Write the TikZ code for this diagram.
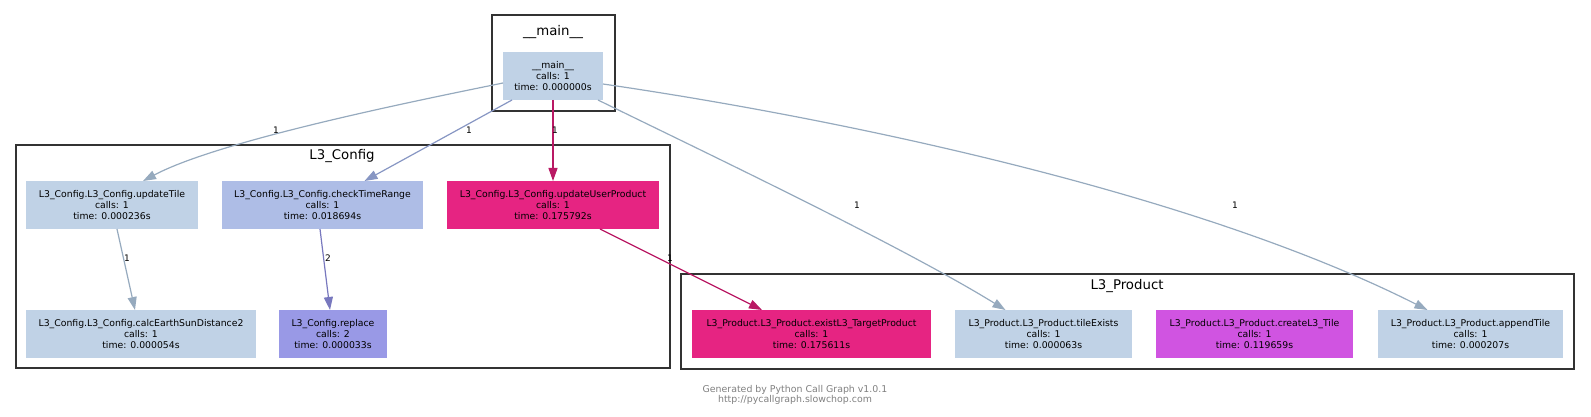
\documentclass[tikz,border=0pt]{standalone}
\usepackage{fontspec}
\setmainfont{DejaVu Sans}
\usetikzlibrary{arrows.meta}
\definecolor{nodeblue}{RGB}{192,210,230}
\definecolor{nodelav}{RGB}{174,189,230}
\definecolor{nodeviolet}{RGB}{153,153,230}
\definecolor{nodepink}{RGB}{230,36,130}
\definecolor{nodemagenta}{RGB}{208,84,225}
\definecolor{edgeblue}{RGB}{150,170,190}
\definecolor{edgelav}{RGB}{135,150,195}
\definecolor{edgeviolet}{RGB}{120,120,190}
\definecolor{edgepink}{RGB}{185,25,100}
\definecolor{grpline}{RGB}{50,50,50}

\begin{document}
\begin{tikzpicture}[x=1pt,y=-1pt,
    fn/.style={minimum height=48pt, inner sep=0pt, outer sep=0pt, align=center, font=\fontsize{9.3}{11}\selectfont},
    grp/.style={draw=grpline, line width=2.6pt},
    grplabel/.style={font=\fontsize{13.3}{15}\selectfont},
    call/.style={line width=1.2pt, -{Triangle[length=13pt,width=9pt]}},
    cnt/.style={font=\fontsize{9}{10}\selectfont, inner sep=0pt}]
    \useasboundingbox (0,0) rectangle (1591,417);
    \draw[grp] (492,15) rectangle (615,111);
    \draw[grp] (16,145) rectangle (670,368);
    \draw[grp] (681,274) rectangle (1574,369);
    \node[grplabel] (tmain) at (553,32) {\_\_main\_\_};
    \node[grplabel] (tconfig) at (342,156) {L3\_Config};
    \node[grplabel] (tproduct) at (1127,286) {L3\_Product};
    \node[fn, fill=nodeblue, minimum width=100pt] (main) at (553,76) {\_\_main\_\_\\calls: 1\\time: 0.000000s};
    \node[fn, fill=nodeblue, minimum width=172pt] (upd) at (112,205) {L3\_Config.L3\_Config.updateTile\\calls: 1\\time: 0.000236s};
    \node[fn, fill=nodelav, minimum width=201pt] (chk) at (322.5,205) {L3\_Config.L3\_Config.checkTimeRange\\calls: 1\\time: 0.018694s};
    \node[fn, fill=nodepink, minimum width=212pt] (uup) at (553,205) {L3\_Config.L3\_Config.updateUserProduct\\calls: 1\\time: 0.175792s};
    \node[fn, fill=nodeblue, minimum width=230pt] (calc) at (141,334) {L3\_Config.L3\_Config.calcEarthSunDistance2\\calls: 1\\time: 0.000054s};
    \node[fn, fill=nodeviolet, minimum width=108pt] (rep) at (333,334) {L3\_Config.replace\\calls: 2\\time: 0.000033s};
    \node[fn, fill=nodepink, minimum width=239pt] (exist) at (811.5,334) {L3\_Product.L3\_Product.existL3\_TargetProduct\\calls: 1\\time: 0.175611s};
    \node[fn, fill=nodeblue, minimum width=177pt] (tex) at (1043.5,334) {L3\_Product.L3\_Product.tileExists\\calls: 1\\time: 0.000063s};
    \node[fn, fill=nodemagenta, minimum width=197pt] (cre) at (1254.5,334) {L3\_Product.L3\_Product.createL3\_Tile\\calls: 1\\time: 0.119659s};
    \node[fn, fill=nodeblue, minimum width=185pt] (app) at (1470.5,334) {L3\_Product.L3\_Product.appendTile\\calls: 1\\time: 0.000207s};
    % calls
    \draw[call, edgeblue] ([yshift=-7pt]main.west) .. controls (420,100) and (220,140) .. ([xshift=31pt]upd.north);
    \draw[call, edgelav] ([xshift=-41pt]main.south) -- ([xshift=42pt]chk.north);
    \draw[call, edgepink] (main.south) -- (uup.north);
    \draw[call, edgeblue] ([xshift=45pt]main.south) .. controls (700,150) and (900,245) .. ([xshift=-38pt]tex.north);
    \draw[call, edgeblue] ([yshift=-8pt]main.east) .. controls (850,120) and (1200,195) .. ([xshift=-43pt]app.north);
    \draw[call, edgeblue] ([xshift=5pt]upd.south) -- ([xshift=-6pt]calc.north);
    \draw[call, edgeviolet] ([xshift=-2.5pt]chk.south) -- ([xshift=-3pt]rep.north);
    \draw[call, edgepink] ([xshift=47pt]uup.south) -- ([xshift=-49.5pt]exist.north);
    \node[cnt] (c1) at (276,130) {1};
    \node[cnt] (c2) at (469,130) {1};
    \node[cnt] (c3) at (555,130) {1};
    \node[cnt] (c4) at (857,205) {1};
    \node[cnt] (c5) at (1235,205) {1};
    \node[cnt] (c6) at (127,258) {1};
    \node[cnt] (c7) at (328,258) {2};
    \node[cnt] (c8) at (670,258) {1};
    \node[align=center, text=gray, font=\fontsize{9.4}{10.5}\selectfont] (foot) at (795,395) {Generated by Python Call Graph v1.0.1\\http://pycallgraph.slowchop.com};
\end{tikzpicture}
\end{document}
